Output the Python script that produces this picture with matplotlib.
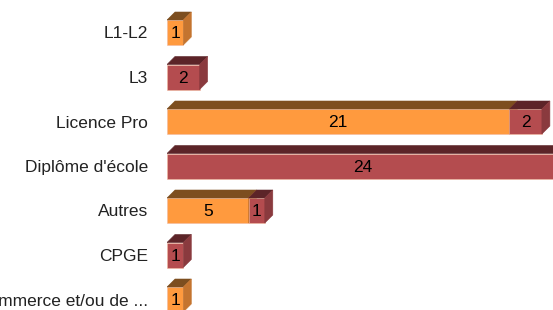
import numpy as np
import matplotlib
matplotlib.use("Agg")
import matplotlib.pyplot as plt
from matplotlib.patches import Polygon

categories = ["L1-L2", "L3", "Licence Pro", "Diplôme d'école", "Autres", "CPGE",
              "École de commerce et/ou de ..."]
orange_vals = [1, 0, 21, 0, 5, 0, 1]
red_vals = [0, 2, 2, 24, 1, 1, 0]

# colours: front, top, side
orange_cols = ("#FF9A3E", "#7D4E1F", "#C4742F")
red_cols = ("#B44C4F", "#5C2428", "#8A3A3E")

plt.rcParams['font.family'] = ['Liberation Sans', 'DejaVu Sans']

W, H = 553, 310
fig = plt.figure(figsize=(W / 100, H / 100), dpi=100)
left_px = 167
px_per_unit = 16.3
row_px = 44.5
first_px = 32.5
ax = fig.add_axes([left_px / W, 0, 1 - left_px / W, 1])
ax.set_xlim(0, (W - left_px) / px_per_unit)
ax.set_ylim((H - first_px) / row_px, -first_px / row_px)

bar_h = 25 / row_px
dx = 8 / px_per_unit
dy = 8 / row_px

y = np.arange(len(categories))


def draw_segment(x0, w, yc, cols, value):
    bars = ax.barh([yc], [w], left=[x0], height=bar_h, color=cols[0],
                   edgecolor="#f2b9a0", linewidth=0.4, zorder=2)
    r = bars[0]
    bx0, by0 = r.get_x(), r.get_y()
    bx1, by1 = bx0 + r.get_width(), by0 + r.get_height()
    top = Polygon([(bx0, by0), (bx1, by0), (bx1 + dx, by0 - dy), (bx0 + dx, by0 - dy)],
                  closed=True, facecolor=cols[1], edgecolor=cols[1], linewidth=0.4, zorder=2)
    side = Polygon([(bx1, by0), (bx1 + dx, by0 - dy), (bx1 + dx, by1 - dy), (bx1, by1)],
                   closed=True, facecolor=cols[2], edgecolor=cols[2], linewidth=0.4, zorder=2)
    ax.add_patch(top)
    ax.add_patch(side)
    ax.text(bx0 + w / 2, yc + 0.03, str(value), ha="center", va="center",
            fontsize=12.5, color="black", zorder=3)


for i in range(len(categories)):
    x0 = 0
    if orange_vals[i] > 0:
        draw_segment(x0, orange_vals[i], y[i], orange_cols, orange_vals[i])
        x0 += orange_vals[i]
    if red_vals[i] > 0:
        draw_segment(x0, red_vals[i], y[i], red_cols, red_vals[i])

ax.set_yticks(y)
ax.set_yticklabels(categories, fontsize=12.5, color="#222222")
ax.tick_params(axis="y", length=0, pad=13.5)
ax.set_xticks([])
for s in ax.spines.values():
    s.set_visible(False)

fig.savefig("out.png", dpi=100)
